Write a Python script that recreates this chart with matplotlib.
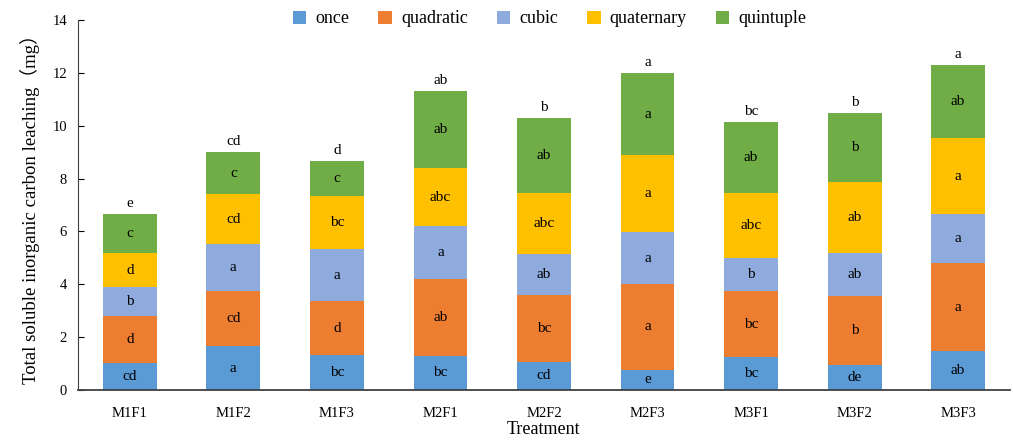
import matplotlib.pyplot as plt
import numpy as np

plt.rcParams['font.family'] = ['Liberation Serif', 'Noto Sans CJK SC']

treatments = ['M1F1', 'M1F2', 'M1F3', 'M2F1', 'M2F2', 'M2F3', 'M3F1', 'M3F2', 'M3F3']
series = ['once', 'quadratic', 'cubic', 'quaternary', 'quintuple']
colors = ['#5B9BD5', '#ED7D31', '#8FAADC', '#FFC000', '#70AD47']

once       = [1.01, 1.66, 1.32, 1.30, 1.07, 0.77, 1.25, 0.95, 1.47]
quadratic  = [1.80, 2.08, 2.04, 2.90, 2.52, 3.24, 2.49, 2.60, 3.33]
cubic      = [1.08, 1.78, 1.97, 2.00, 1.55, 1.96, 1.25, 1.63, 1.85]
quaternary = [1.29, 1.89, 2.00, 2.19, 2.31, 2.91, 2.46, 2.68, 2.88]
quintuple  = [1.47, 1.59, 1.33, 2.91, 2.83, 3.11, 2.68, 2.61, 2.77]

# significance letters per segment and for totals
sig_once  = ['cd', 'a', 'bc', 'bc', 'cd', 'e', 'bc', 'de', 'ab']
sig_quad  = ['d', 'cd', 'd', 'ab', 'bc', 'a', 'bc', 'b', 'a']
sig_cubic = ['b', 'a', 'a', 'a', 'ab', 'a', 'b', 'ab', 'a']
sig_quat  = ['d', 'cd', 'bc', 'abc', 'abc', 'a', 'abc', 'ab', 'a']
sig_quint = ['c', 'c', 'c', 'ab', 'ab', 'a', 'ab', 'b', 'ab']
sig_total = ['e', 'cd', 'd', 'ab', 'b', 'a', 'bc', 'b', 'a']

values = [once, quadratic, cubic, quaternary, quintuple]
letters = [sig_once, sig_quad, sig_cubic, sig_quat, sig_quint]

fig = plt.figure(figsize=(10.13, 4.41), dpi=100)
ax = fig.add_axes([0.077, 0.1156, 0.92, 0.839])

x = np.arange(len(treatments))
bottom = np.zeros(len(treatments))
for name, vals, col, sig in zip(series, values, colors, letters):
    vals = np.array(vals)
    ax.bar(x, vals, 0.52, bottom=bottom, color=col, label=name)
    for xi, b, v, s in zip(x, bottom, vals, sig):
        ax.text(xi, b + v / 2, s, ha='center', va='center', fontsize=11)
    bottom = bottom + vals

for xi, tot, s in zip(x, bottom, sig_total):
    ax.text(xi, tot + 0.4, s, ha='center', va='center', fontsize=11)

ax.set_xlim(-0.5, 8.5)
ax.set_ylim(0, 14)
ax.set_yticks(range(0, 15, 2))
ax.set_xticks(x)
ax.set_xticklabels(treatments)
ax.tick_params(axis='x', length=0, labelsize=10.5, pad=12)
ax.tick_params(axis='y', direction='in', length=4, labelsize=10.5, pad=8)
ax.spines['top'].set_visible(False)
ax.spines['right'].set_visible(False)
ax.spines['left'].set_color('#404040')
ax.spines['bottom'].set_color('#404040')
ax.spines['bottom'].set_linewidth(1.3)

ax.set_xlabel('Treatment', fontsize=13, labelpad=1)
ax.set_ylabel('Total soluble inorganic carbon leaching（mg）', fontsize=13.5, labelpad=9)

ax.legend(loc='center', bbox_to_anchor=(0.506, 1.003), ncol=5, frameon=False,
          fontsize=13, handlelength=0.75, handleheight=0.75, handletextpad=0.5,
          columnspacing=1.6)

fig.savefig('out.png', dpi=100)
